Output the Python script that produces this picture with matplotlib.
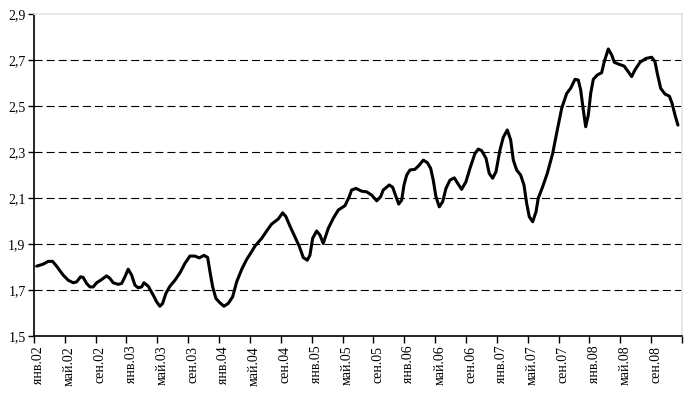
import matplotlib
matplotlib.use("Agg")
import matplotlib.pyplot as plt

# ── series: x in months since Jan 2002, y ────────────────────────────────────
MONTHS = [
    0.35, 1.21, 1.85, 2.42, 2.94, 3.80, 4.45, 5.09, 5.54, 6.05, 6.39, 6.83,
    7.26, 7.69, 8.13, 8.78, 9.42, 9.85, 10.28, 10.93, 11.37, 11.80, 12.22,
    12.67, 13.09, 13.52, 13.96, 14.26, 14.82, 15.47, 15.91, 16.33, 16.68,
    17.11, 17.63, 18.28, 18.93, 19.57, 20.22, 20.87, 21.43, 22.04, 22.52,
    22.82, 23.17, 23.59, 24.11, 24.63, 25.19, 25.76, 26.28, 26.93, 27.57,
    28.22, 28.65, 29.52, 30.17, 30.81, 31.67, 32.24, 32.67, 33.19, 33.83,
    34.39, 34.91, 35.43, 35.78, 36.13, 36.65, 37.08, 37.50, 38.15, 38.80,
    39.45, 40.32, 40.87, 41.18, 41.74, 42.48, 43.13, 43.78, 44.43, 44.94,
    45.28, 46.06, 46.50, 46.93, 47.28, 47.67, 47.97, 48.32, 48.74, 49.39,
    49.95, 50.47, 50.99, 51.43, 51.76, 52.11, 52.54, 52.98, 53.41, 53.93,
    54.49, 54.93, 55.44, 56.00, 56.52, 57.17, 57.60, 58.04, 58.60, 59.02,
    59.46, 59.89, 60.41, 60.84, 61.36, 61.80, 62.14, 62.57, 63.09, 63.52,
    63.87, 64.21, 64.65, 65.08, 65.37, 65.94, 66.54, 67.24, 67.84, 68.41,
    69.06, 69.57, 70.13, 70.56, 70.87, 71.21, 71.52, 71.86, 72.17, 72.51,
    73.03, 73.59, 73.93, 74.45, 74.89, 75.23, 75.88, 76.49, 77.04, 77.48,
    77.91, 78.56, 79.34, 80.08, 80.50, 80.80, 81.24, 81.80, 82.37, 82.71,
    83.13, 83.48,
]
VALUES = [
    1.804, 1.813, 1.825, 1.825, 1.804, 1.765, 1.743, 1.732, 1.736, 1.758,
    1.755, 1.729, 1.714, 1.714, 1.732, 1.746, 1.762, 1.751, 1.732, 1.725,
    1.729, 1.758, 1.791, 1.765, 1.722, 1.710, 1.714, 1.732, 1.717, 1.678,
    1.649, 1.630, 1.642, 1.686, 1.717, 1.743, 1.775, 1.816, 1.848, 1.848,
    1.840, 1.851, 1.842, 1.780, 1.714, 1.664, 1.645, 1.630, 1.642, 1.671,
    1.736, 1.790, 1.833, 1.867, 1.891, 1.925, 1.957, 1.987, 2.009, 2.036,
    2.019, 1.978, 1.932, 1.891, 1.842, 1.830, 1.852, 1.925, 1.957, 1.939,
    1.903, 1.968, 2.012, 2.048, 2.067, 2.106, 2.135, 2.142, 2.130, 2.127,
    2.113, 2.088, 2.106, 2.135, 2.157, 2.147, 2.106, 2.074, 2.091, 2.157,
    2.200, 2.222, 2.225, 2.243, 2.265, 2.254, 2.229, 2.178, 2.106, 2.062,
    2.084, 2.142, 2.178, 2.188, 2.164, 2.138, 2.171, 2.229, 2.294, 2.313,
    2.306, 2.273, 2.207, 2.186, 2.214, 2.309, 2.364, 2.396, 2.352, 2.265,
    2.222, 2.200, 2.157, 2.077, 2.019, 1.997, 2.040, 2.099, 2.149, 2.207,
    2.294, 2.396, 2.490, 2.555, 2.577, 2.616, 2.613, 2.570, 2.483, 2.410,
    2.461, 2.555, 2.616, 2.635, 2.645, 2.693, 2.748, 2.722, 2.690, 2.681,
    2.674, 2.649, 2.628, 2.657, 2.690, 2.707, 2.712, 2.693, 2.642, 2.577,
    2.552, 2.543, 2.512, 2.457, 2.417,
]

X_TICKS = list(range(0, 85, 4))
X_LABELS = [f"{m}.{y:02d}" for y in range(2, 9) for m in ("янв", "май", "сен")]
Y_TICKS = [1.5, 1.7, 1.9, 2.1, 2.3, 2.5, 2.7, 2.9]
Y_LABELS = ["1,5", "1,7", "1,9", "2,1", "2,3", "2,5", "2,7", "2,9"]
GRID_LEVELS = [1.7, 1.9, 2.1, 2.3, 2.5, 2.7]

plt.rcParams["font.family"] = ["Liberation Serif", "DejaVu Serif"]
plt.rcParams["lines.scale_dashes"] = False

fig = plt.figure(figsize=(6.92, 3.95), dpi=100)
ax = fig.add_axes([0.049, 0.149, 0.9365, 0.8156])

for lv in GRID_LEVELS:
    ax.axhline(lv, color="black", linewidth=0.8, dashes=(5.8, 2.9), zorder=1)

ax.plot(MONTHS, VALUES, color="black", linewidth=2.2,
        solid_joinstyle="round", solid_capstyle="round", zorder=3)

ax.set_xlim(0, 84)
ax.set_ylim(1.5, 2.9)

ax.set_yticks(Y_TICKS)
ax.set_yticklabels(Y_LABELS, fontsize=10)
ax.tick_params(axis="y", length=4, width=1, pad=2)

# ticks between categories, labels slightly to the right of each tick
ax.set_xticks(X_TICKS)
ax.set_xticklabels([""] * len(X_TICKS))
ax.tick_params(axis="x", which="major", length=5, width=1)
ax.set_xticks([t + 0.6 for t in X_TICKS[:-1]], minor=True)
ax.set_xticklabels(X_LABELS, minor=True, rotation=90, fontsize=10)
ax.tick_params(axis="x", which="minor", length=0, pad=7)

for side in ("left", "bottom"):
    ax.spines[side].set_color("black")
    ax.spines[side].set_linewidth(1.2)
for side in ("top", "right"):
    ax.spines[side].set_color("#e4e4e4")
    ax.spines[side].set_linewidth(1.2)

fig.savefig("out.png", dpi=100)
